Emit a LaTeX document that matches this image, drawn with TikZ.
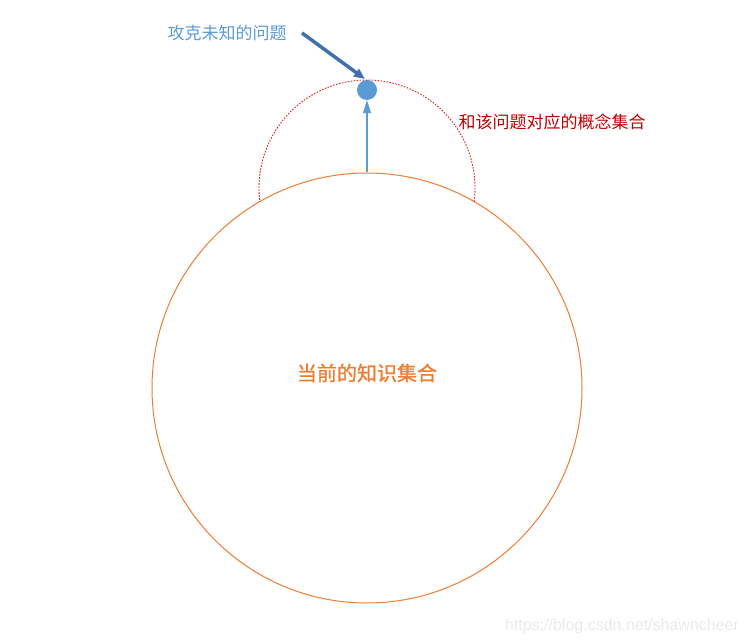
\documentclass[tikz,border=0pt]{standalone}
\usepackage{fontspec}
\newfontfamily\cjk{Noto Sans CJK SC}
\newfontfamily\cjkb[FakeBold=1.2]{Noto Sans CJK SC}
\usetikzlibrary{arrows.meta}
\definecolor{orangeline}{RGB}{237,125,49}
\definecolor{bluedot}{RGB}{91,155,213}
\definecolor{bluedark}{RGB}{65,113,172}
\definecolor{redarc}{RGB}{226,30,40}
\definecolor{darkred}{RGB}{192,0,0}
\definecolor{wmark}{RGB}{234,234,234}
\tikzset{
  lbl/.style={inner sep=0pt, font=\cjk\fontsize{17bp}{20bp}\selectfont},
  biglbl/.style={inner sep=0pt, font=\cjkb\fontsize{20bp}{24bp}\selectfont},
  knowcircle/.style={circle, draw=orangeline, line width=1bp, minimum size=430bp, inner sep=0pt},
  dotnode/.style={circle, fill=bluedot, minimum size=20bp, inner sep=0pt},
  conceptarc/.style={draw=redarc, line width=0.9bp, dash pattern=on 1.6bp off 1.4bp},
  uparrow/.style={draw=bluedot, line width=1.2bp, -{Triangle[length=13bp,width=8bp]}},
  pointarrow/.style={draw=bluedark, line width=3.5bp, -{Triangle[length=11bp,width=9bp]}}
}
\begin{document}
\begin{tikzpicture}[x=1bp,y=-1bp]
\useasboundingbox (0,0) rectangle (748,644);
\node[knowcircle] (know) at (367,388) {};
\node[dotnode] (dot) at (367,90) {};
\coordinate (ac) at (367,188);
\draw[conceptarc] (ac) ++(7.2:108) arc[start angle=7.2, end angle=-187.2, radius=108];
\draw[uparrow] (know.north) -- (dot.south);
\coordinate (a1) at (302,33);
\coordinate (a2) at (365,79);
\draw[pointarrow] (a1) -- (a2);
\node[lbl, text=bluedot] (q) at (227,33) {攻克未知的问题};
\node[lbl, text=darkred] (c) at (552,122) {和该问题对应的概念集合};
\node[biglbl, text=orangeline] (k) at (367,373) {当前的知识集合};
\node[inner sep=0pt, text=wmark, font=\fontspec{Liberation Sans}\fontsize{16bp}{19bp}\selectfont] (w) at (622,626) {https://blog.csdn.net/shawncheer};
\end{tikzpicture}
\end{document}
